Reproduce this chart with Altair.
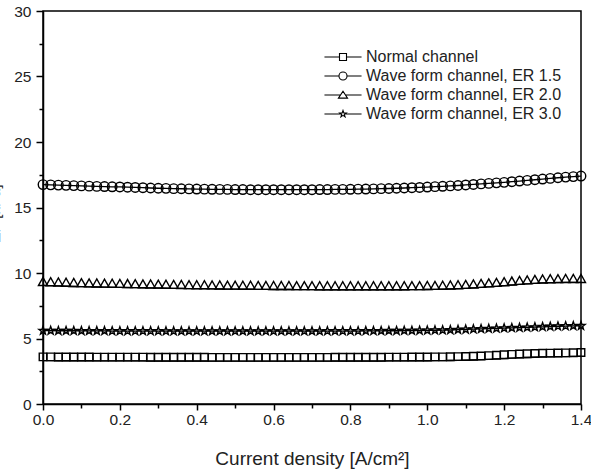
import altair as alt
import pandas as pd

# Current density grid [A/cm2]
current_density = [
    0.00, 0.02, 0.04, 0.06, 0.08, 0.10, 0.12, 0.14, 0.16, 0.18, 0.20,
    0.22, 0.24, 0.26, 0.28, 0.30, 0.32, 0.34, 0.36, 0.38, 0.40,
    0.42, 0.44, 0.46, 0.48, 0.50, 0.52, 0.54, 0.56, 0.58, 0.60,
    0.62, 0.64, 0.66, 0.68, 0.70, 0.72, 0.74, 0.76, 0.78, 0.80,
    0.82, 0.84, 0.86, 0.88, 0.90, 0.92, 0.94, 0.96, 0.98, 1.00,
    1.02, 1.04, 1.06, 1.08, 1.10, 1.12, 1.14, 1.16, 1.18, 1.20,
    1.22, 1.24, 1.26, 1.28, 1.30, 1.32, 1.34, 1.36, 1.38, 1.40,
]

normal_channel = [
    3.31, 3.31, 3.30, 3.30, 3.30, 3.30, 3.30, 3.29, 3.29, 3.29, 3.29,
    3.29, 3.29, 3.29, 3.28, 3.28, 3.28, 3.28, 3.28, 3.28, 3.28,
    3.28, 3.27, 3.27, 3.27, 3.27, 3.27, 3.27, 3.27, 3.27, 3.27,
    3.27, 3.27, 3.27, 3.27, 3.27, 3.27, 3.27, 3.28, 3.28, 3.28,
    3.28, 3.28, 3.28, 3.28, 3.29, 3.29, 3.29, 3.30, 3.30, 3.30,
    3.31, 3.31, 3.32, 3.33, 3.34, 3.36, 3.38, 3.41, 3.44, 3.47,
    3.50, 3.53, 3.55, 3.57, 3.59, 3.60, 3.61, 3.62, 3.63, 3.64,
]

wave_er15 = [
    16.75, 16.73, 16.71, 16.69, 16.67, 16.65, 16.63, 16.61, 16.60, 16.58, 16.57,
    16.55, 16.53, 16.51, 16.49, 16.47, 16.46, 16.44, 16.43, 16.42, 16.41,
    16.40, 16.39, 16.38, 16.38, 16.37, 16.37, 16.36, 16.36, 16.36, 16.36,
    16.36, 16.36, 16.36, 16.36, 16.36, 16.37, 16.37, 16.38, 16.38, 16.39,
    16.40, 16.41, 16.42, 16.44, 16.45, 16.47, 16.49, 16.51, 16.53, 16.56,
    16.59, 16.62, 16.65, 16.68, 16.72, 16.76, 16.80, 16.84, 16.88, 16.92,
    16.97, 17.02, 17.07, 17.12, 17.17, 17.22, 17.27, 17.32, 17.36, 17.40,
]

wave_er20 = [
    9.05, 9.03, 9.01, 8.99, 8.97, 8.96, 8.94, 8.93, 8.92, 8.91, 8.90,
    8.89, 8.88, 8.87, 8.86, 8.85, 8.84, 8.83, 8.82, 8.81, 8.80,
    8.80, 8.79, 8.78, 8.77, 8.77, 8.76, 8.76, 8.75, 8.75, 8.74,
    8.74, 8.74, 8.73, 8.73, 8.73, 8.72, 8.72, 8.72, 8.72, 8.72,
    8.72, 8.72, 8.72, 8.72, 8.72, 8.72, 8.72, 8.73, 8.73, 8.74,
    8.75, 8.76, 8.78, 8.80, 8.83, 8.86, 8.90, 8.94, 8.98, 9.03,
    9.08, 9.13, 9.17, 9.21, 9.24, 9.26, 9.27, 9.28, 9.28, 9.28,
]

wave_er30 = [
    5.60, 5.60, 5.59, 5.59, 5.59, 5.58, 5.58, 5.58, 5.58, 5.57, 5.57,
    5.57, 5.57, 5.57, 5.57, 5.57, 5.56, 5.56, 5.56, 5.56, 5.56,
    5.56, 5.56, 5.56, 5.56, 5.56, 5.56, 5.56, 5.56, 5.56, 5.56,
    5.56, 5.56, 5.56, 5.56, 5.56, 5.56, 5.57, 5.57, 5.57, 5.57,
    5.57, 5.58, 5.58, 5.58, 5.59, 5.59, 5.60, 5.60, 5.61, 5.62,
    5.63, 5.64, 5.65, 5.67, 5.69, 5.71, 5.73, 5.75, 5.77, 5.79,
    5.81, 5.83, 5.85, 5.87, 5.89, 5.91, 5.93, 5.95, 5.96, 5.97,
]

series_names = [
    "Normal channel",
    "Wave form channel, ER 1.5",
    "Wave form channel, ER 2.0",
    "Wave form channel, ER 3.0",
]
series_values = [normal_channel, wave_er15, wave_er20, wave_er30]

x_major = [0.0, 0.2, 0.4, 0.6, 0.8, 1.0, 1.2, 1.4]
x_minor = [0.1, 0.3, 0.5, 0.7, 0.9, 1.1, 1.3]
y_major = [0, 5, 10, 15, 20, 25, 30]
y_minor = [2.5, 7.5, 12.5, 17.5, 22.5, 27.5]

rows = []
for name, vals in zip(series_names, series_values):
    for xv, yv in zip(current_density, vals):
        rows.append({"series": name, "x": xv, "y": yv})
df = pd.DataFrame(rows)

FONT = "Liberation Sans"
TEXT = "#222222"
W, H = 538, 393

# Open marker outlines (unit path coords); squares and triangles sit on the line
marker_paths = [
    "M-0.75,0V-1.5H0.75V0Z",
    "M-0.95,0A0.95,0.95 0 1,0 0.95,0A0.95,0.95 0 1,0 -0.95,0Z",
    "M-0.9,0L0,-1.6L0.9,0Z",
    "M0,-0.85L0.2,-0.275L0.808,-0.263L0.323,0.105L0.5,0.688L0,0.34"
    "L-0.5,0.688L-0.323,0.105L-0.808,-0.263L-0.2,-0.275Z",
]

# Legend keys: short line segments on each side of the marker
legend_paths = [
    "M-5.3,0H-1M1,0H5.3M-1,-1H1V1H-1Z",
    "M-5.3,0H-1.15M1.15,0H5.3M-1.15,0A1.15,1.15 0 1,0 1.15,0A1.15,1.15 0 1,0 -1.15,0Z",
    "M-5.3,0H-0.72M0.72,0H5.3M-1.3,0.9L0,-1.1L1.3,0.9Z",
    "M-5.3,0H-0.55M0.55,0H5.3M0,-1L0.235,-0.324L0.951,-0.309L0.38,0.124L0.588,0.809"
    "L0,0.4L-0.588,0.809L-0.38,0.124L-0.951,-0.309L-0.235,-0.324Z",
]

x_scale = alt.Scale(domain=[0, 1.4], nice=False, zero=False)
y_scale = alt.Scale(domain=[0, 30], nice=False)

x_axis = alt.Axis(
    values=x_major, format=".1f", grid=False,
    tickSize=6, tickWidth=1.5, tickColor="black",
    domainWidth=1.5, domainColor="black",
    labelFont=FONT, labelFontSize=15.5, labelColor=TEXT, labelPadding=2,
    labelFlush=False, labelOverlap=False, labelBound=False,
    title="Current density [A/cm²]", titleFont=FONT, titleFontSize=19,
    titleFontWeight="normal", titleColor=TEXT, titlePadding=22,
)
y_axis = alt.Axis(
    values=y_major, format="d", grid=False,
    tickSize=7, tickWidth=1.5, tickColor="black",
    domainWidth=1.5, domainColor="black",
    labelFont=FONT, labelFontSize=15.5, labelColor=TEXT, labelPadding=5,
    labelFlush=False, labelOverlap=False,
    title="ΔP [kPa]", titleFont=FONT, titleFontSize=15,
    titleFontWeight="normal", titleColor=TEXT,
    titleAngle=270, titleAlign="center", titleBaseline="alphabetic",
    titleX=-44, titleY=202,
)

base = alt.Chart(df).encode(
    x=alt.X("x:Q", scale=x_scale, axis=x_axis),
    y=alt.Y("y:Q", scale=y_scale, axis=y_axis),
)

lines = base.mark_line(color="black", strokeWidth=1.3).encode(detail="series:N")

points = base.mark_point(
    filled=False, color="black", strokeWidth=1.4, size=100, opacity=1
).encode(
    shape=alt.Shape("series:N", scale=alt.Scale(domain=series_names, range=marker_paths), legend=None)
)

legend_layer = alt.Chart(alt.Data(values=[])).mark_point(
    filled=False, color="black", strokeWidth=1.1, opacity=1
).encode(
    shape=alt.Shape(
        "series:N",
        scale=alt.Scale(domain=series_names, range=legend_paths),
        legend=alt.Legend(
            title=None, orient="none", legendX=292, legendY=38, padding=0,
            symbolSize=49, symbolStrokeColor="black", symbolFillColor="transparent",
            symbolStrokeWidth=1.1, symbolOpacity=1,
            labelFont=FONT, labelFontSize=16, labelColor=TEXT, labelLimit=400,
            labelOffset=15, rowPadding=3,
        ),
    )
)

main = alt.layer(lines, points, legend_layer).resolve_scale(shape="independent")

# Minor tick marks between the labelled ticks
minor = alt.Chart(alt.Data(values=[])).mark_point(opacity=0).encode(
    x=alt.X("x:Q", scale=x_scale, axis=alt.Axis(
        orient="bottom", values=x_minor, labels=False, domain=False, grid=False,
        tickSize=4, tickWidth=1.5, tickColor="black", title=None)),
    y=alt.Y("y:Q", scale=y_scale, axis=alt.Axis(
        orient="left", values=y_minor, labels=False, domain=False, grid=False,
        tickSize=4, tickWidth=1.5, tickColor="black", title=None)),
)

chart = alt.layer(main, minor).resolve_scale(
    x="independent", y="independent"
).properties(
    width=W, height=H,
    autosize=alt.AutoSizeParams(type="none"),
    padding={"left": 43, "top": 11, "right": 10, "bottom": 70},
    background="white",
).configure_view(stroke="black", strokeWidth=1.5)

chart.save("out.html", embed_options={"renderer": "svg", "actions": False})
